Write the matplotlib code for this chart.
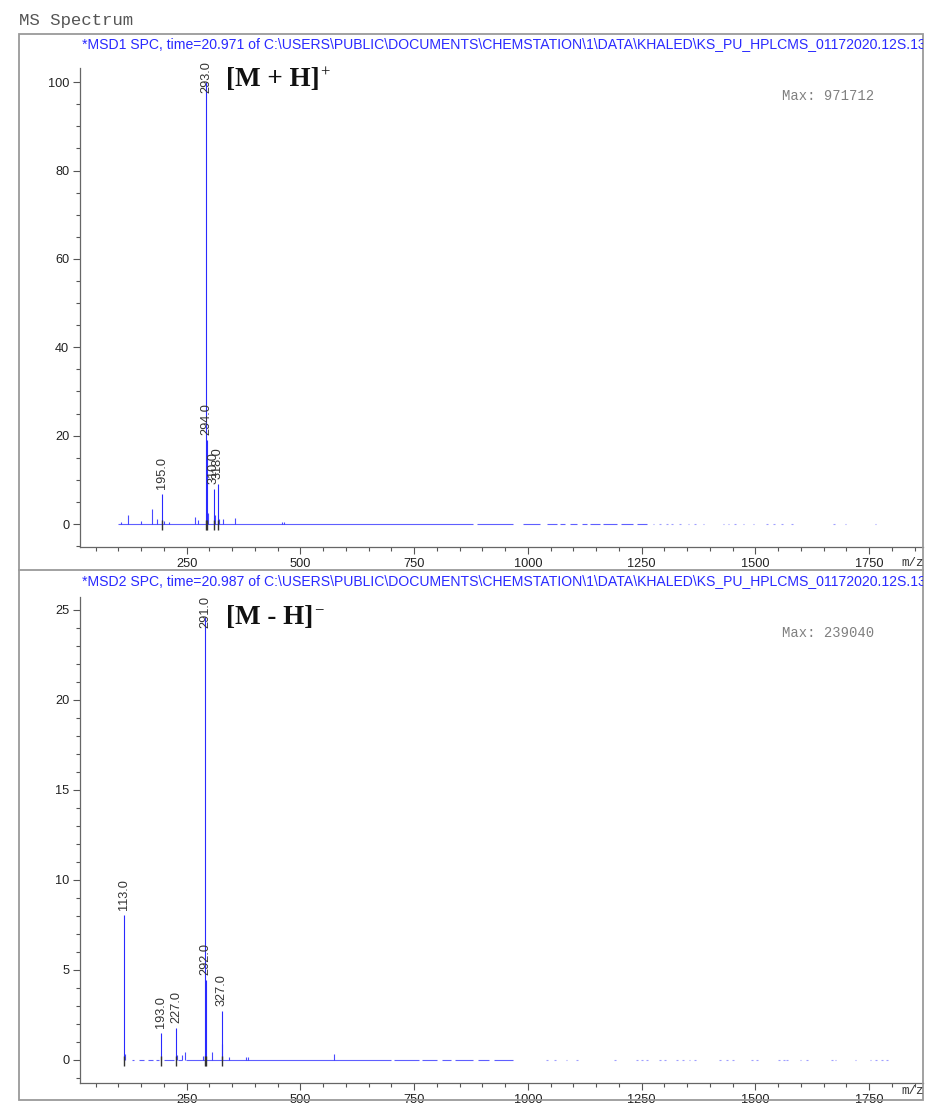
import matplotlib
matplotlib.use("Agg")
import matplotlib.pyplot as plt
from matplotlib.ticker import MultipleLocator
from matplotlib.patches import Rectangle
import numpy as np

plt.rcParams['font.family'] = ['Liberation Sans', 'DejaVu Sans']

# --- positive mode (MSD1), relative abundance in % of base peak ---
pos_label_mz = [195.0, 293.0, 294.0, 310.0, 318.0]
pos_label_int = [6.8, 100.0, 19.0, 8.0, 9.1]
pos_small_mz = [105, 121, 150, 173, 185, 200, 212, 269, 275, 297, 312, 320, 330, 356, 459, 464]
pos_small_int = [0.5, 2.1, 0.6, 3.5, 1.1, 0.6, 0.5, 1.5, 0.8, 2.6, 2.0, 1.2, 1.1, 1.4, 0.4, 0.5]
pos_base_runs = [(100, 880), (888, 968), (989, 1027), (1042, 1064), (1070, 1081), (1092, 1108),
                 (1119, 1130), (1136, 1158), (1165, 1195), (1205, 1230), (1240, 1262)]
pos_base_dots = [1276, 1291, 1306, 1317, 1335, 1353, 1368, 1386, 1430, 1441, 1456, 1474,
                 1496, 1526, 1540, 1559, 1581, 1672, 1698, 1764]

# --- negative mode (MSD2), same % scale as MSD1 ---
neg_label_mz = [113.0, 193.0, 227.0, 291.0, 292.0, 327.0]
neg_label_int = [8.05, 1.5, 1.8, 24.6, 4.45, 2.7]
neg_small_mz = [114, 228, 239, 246, 285, 290, 305, 328, 343, 380, 385, 574]
neg_small_int = [0.35, 0.3, 0.25, 0.45, 0.2, 0.3, 0.45, 0.9, 0.15, 0.15, 0.15, 0.33]
neg_base_runs = [(130, 135), (146, 156), (164, 176), (182, 190), (200, 222), (232, 240),
                 (248, 700), (705, 760), (768, 800), (812, 830), (840, 880), (890, 915), (925, 968)]
neg_base_dots = [1042, 1060, 1085, 1108, 1192, 1240, 1250, 1262, 1291, 1302, 1328, 1340,
                 1355, 1368, 1423, 1437, 1451, 1493, 1504, 1551, 1562, 1570, 1599, 1614,
                 1669, 1676, 1720, 1753, 1765, 1778, 1790]

titles = [r"*MSD1 SPC, time=20.971 of C:\USERS\PUBLIC\DOCUMENTS\CHEMSTATION\1\DATA\KHALED\KS_PU_HPLCMS_01172020.12S.13",
          r"*MSD2 SPC, time=20.987 of C:\USERS\PUBLIC\DOCUMENTS\CHEMSTATION\1\DATA\KHALED\KS_PU_HPLCMS_01172020.12S.13"]
max_counts = [971712, 239040]
ion_names = ["[M + H]", "[M - H]"]
ion_charges = ["+", "\u2212"]

W, H = 927, 1109
fig = plt.figure(figsize=(W / 100, H / 100), dpi=100)


def fx(px):
    return px / W


def fy(py):
    return 1 - py / H


BLUE = '#2a2aff'
GREY = '#9a9a9a'

fig.text(fx(19), fy(20), "MS Spectrum", family='Liberation Mono', fontsize=12.5,
         color='#555555', va='center')

xmin = (80 - 72.9) / 0.455
xmax = (923 - 72.9) / 0.455

panels = [
    dict(top=68, bottom=547, ylim=(-5.2, 103.2), major=20, minor=5, off=0,
         lmz=pos_label_mz, lint=pos_label_int, smz=pos_small_mz, sint=pos_small_int,
         runs=pos_base_runs, dots=pos_base_dots, box=(34, 570)),
    dict(top=597, bottom=1083, ylim=(-1.28, 25.72), major=5, minor=1, off=537,
         lmz=neg_label_mz, lint=neg_label_int, smz=neg_small_mz, sint=neg_small_int,
         runs=neg_base_runs, dots=neg_base_dots, box=(570, 1100)),
]

for i, p in enumerate(panels):
    # clipping area for the header text of this panel
    clip_ax = fig.add_axes([fx(19), fy(p['box'][1]), fx(923) - fx(19), fy(p['box'][0]) - fy(p['box'][1])])
    clip_ax.axis('off')
    t = fig.text(fx(82), fy(44 + p['off']), titles[i], color=BLUE, fontsize=10.1, va='center')
    t.set_clip_on(True)
    t.set_clip_box(clip_ax.bbox)

    ax = fig.add_axes([fx(80), fy(p['bottom']), fx(923) - fx(80), fy(p['top']) - fy(p['bottom'])])
    ax.patch.set_visible(False)
    ax.set_xlim(xmin, xmax)
    ax.set_ylim(*p['ylim'])
    for s in ['top', 'right']:
        ax.spines[s].set_visible(False)
    for s in ['left', 'bottom']:
        ax.spines[s].set_color('#666666')
        ax.spines[s].set_linewidth(0.9)
    ax.xaxis.set_major_locator(MultipleLocator(250))
    ax.xaxis.set_minor_locator(MultipleLocator(50))
    ax.yaxis.set_major_locator(MultipleLocator(p['major']))
    ax.yaxis.set_minor_locator(MultipleLocator(p['minor']))
    ax.tick_params(which='major', length=5.3, width=0.8, color='#555555', labelsize=9.2,
                   labelcolor='#222222', pad=2.5)
    ax.tick_params(which='minor', length=3, width=0.8, color='#555555')

    # baseline
    runs = np.array(p['runs'], dtype=float)
    ax.hlines(np.zeros(len(runs)), runs[:, 0], runs[:, 1], color=BLUE, lw=0.8, alpha=0.75)
    dots = np.array(p['dots'], dtype=float)
    ax.hlines(np.zeros(len(dots)), dots - 2, dots + 2, color=BLUE, lw=0.8, alpha=0.45)

    # minor peaks
    ax.vlines(p['smz'], 0, p['sint'], color=BLUE, lw=0.8, alpha=0.85)
    # labelled peaks
    ax.vlines(p['lmz'], 0, p['lint'], color=BLUE, lw=0.8)

    # dark markers across the baseline under labelled peaks
    upp = (p['ylim'][1] - p['ylim'][0]) / (p['bottom'] - p['top'])
    ax.vlines(p['lmz'], -6 * upp, 4 * upp, color='#333333', lw=1.0)

    top_val = max(p['lint'])
    for mz, v in zip(p['lmz'], p['lint']):
        dy = -7.5 if v == top_val else 3.6
        ax.annotate(f"{mz:.1f}", xy=(mz, v), xytext=(0, dy), textcoords='offset points',
                    rotation=90, ha='center', va='bottom', fontsize=9.2, color='#333333',
                    annotation_clip=False)

    tm = fig.text(fx(901), fy(563 + (528 if i else 0)), "m/z", family='Liberation Mono',
                  fontsize=9, color='#333333', va='center')
    tm.set_clip_on(True)
    tm.set_clip_box(clip_ax.bbox)

    fig.text(fx(782), fy(96 + p['off']), f"Max: {max_counts[i]}", family='Liberation Mono',
             fontsize=10, color='#808080', va='center')

    name = fig.text(fx(226), fy(80 + p['off']), ion_names[i], family='Liberation Serif',
                    fontweight='bold', fontsize=19.5, color='#111111', va='center')
    plt.annotate(ion_charges[i], xy=(1, 0.78), xycoords=name, xytext=(0.3, 0),
                 textcoords='offset points', family='Liberation Serif', fontsize=12,
                 color='#111111', va='center', ha='left')

# outer frame and panel separator, drawn on top
frame = fig.add_axes([0, 0, 1, 1])
frame.patch.set_visible(False)
frame.set_xlim(0, W)
frame.set_ylim(H, 0)
frame.axis('off')
frame.add_patch(Rectangle((19, 34), 904, 1066, fill=False, edgecolor=GREY, lw=1.3))
frame.plot([19, 923], [570, 570], color=GREY, lw=1.3)

fig.savefig("out.png", dpi=100)
